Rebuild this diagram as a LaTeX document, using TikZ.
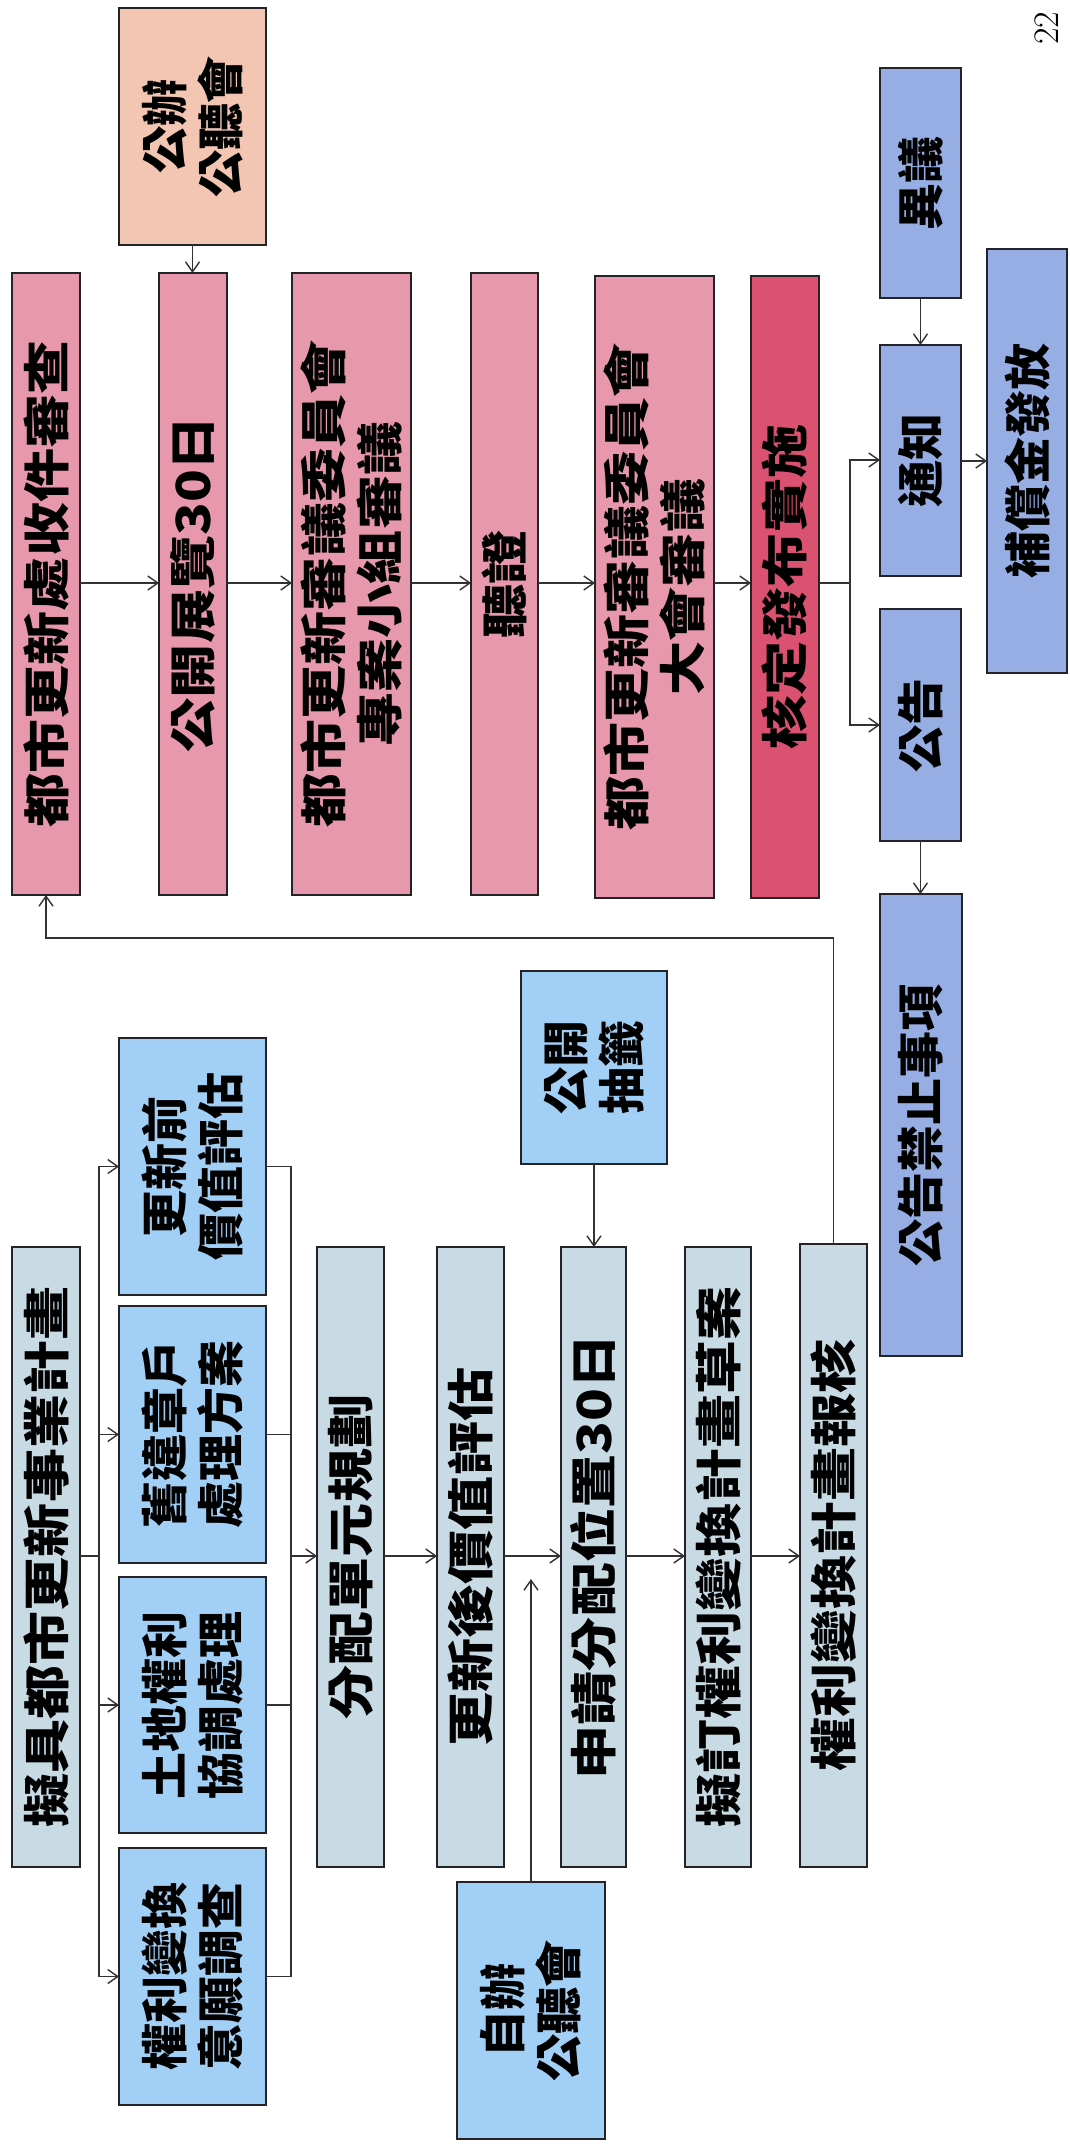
\documentclass[tikz,border=0pt]{standalone}
\usepackage{fontspec}
\newfontfamily\cjk{Noto Sans CJK TC}
\newfontfamily\cjkw{Noto Sans CJK TC}[FakeStretch=1.15]
\usetikzlibrary{arrows.meta}
\definecolor{boxline}{RGB}{35,35,40}
\definecolor{linec}{RGB}{50,50,50}
\definecolor{peach}{RGB}{243,198,180}
\definecolor{rosepink}{RGB}{232,152,172}
\definecolor{deepred}{RGB}{218,82,112}
\definecolor{peri}{RGB}{150,174,228}
\definecolor{sky}{RGB}{162,207,245}
\definecolor{grayblue}{RGB}{200,219,229}
\tikzset{
  bx/.style={draw=boxline, line width=1.4pt, rotate=90, inner sep=0pt, outer sep=0pt, align=center, text=black},
  tbig/.style={font=\cjkw\bfseries\fontsize{23.5}{28}\selectfont},
  tsmall/.style={font=\cjk\bfseries\fontsize{23.5}{28}\selectfont},
  arr/.style={draw=linec, line width=0.7pt, -{Straight Barb[length=5pt,width=7pt]}},
  ln/.style={draw=linec, line width=0.7pt},
}
% name, x1, y1, x2, y2, style, text
\newcommand\putbox[7]{%
  \node[bx,#6, minimum width={(#5-#3)*0.5pt}, minimum height={(#4-#2)*0.5pt}]
    (#1) at ({(#2+#4)/2},{(#3+#5)/2}) {#7};}
\begin{document}
\begin{tikzpicture}[x=0.5pt,y=-0.5pt]
\useasboundingbox (0,0) rectangle (1070,2144);
% page number
\node[rotate=90, anchor=base, font=\fontsize{18}{22}\selectfont] (pg) at (1058,28) {22};
% upper pink row
\putbox{G}{119}{8}{266}{245}{fill=peach,tsmall}{公辦\\公聽會}
\putbox{P1}{12}{273}{80}{895}{fill=rosepink,tbig}{都市更新處收件審查}
\putbox{P2}{159}{273}{227}{895}{fill=rosepink,tbig}{公開展覽30日}
\putbox{P3}{292}{273}{411}{895}{fill=rosepink,tbig}{都市更新審議委員會\\專案小組審議}
\putbox{P4}{471}{273}{538}{895}{fill=rosepink,tbig}{聽證}
\putbox{P5}{595}{276}{714}{898}{fill=rosepink,tbig}{都市更新審議委員會\\大會審議}
\putbox{P6}{751}{276}{819}{898}{fill=deepred,tbig}{核定發布實施}
% right blue column
\putbox{Y}{880}{68}{961}{298}{fill=peri,tsmall}{異議}
\putbox{N}{880}{345}{961}{576}{fill=peri,tsmall}{通知}
\putbox{A}{880}{609}{961}{841}{fill=peri,tsmall}{公告}
\putbox{F}{880}{894}{962}{1356}{fill=peri,tsmall}{公告禁止事項}
\putbox{C}{987}{249}{1067}{673}{fill=peri,tsmall}{補償金發放}
% lower left part
\putbox{S}{12}{1247}{80}{1867}{fill=grayblue,tbig}{擬具都市更新事業計畫}
\putbox{B1}{119}{1038}{266}{1295}{fill=sky,tsmall}{更新前\\價值評估}
\putbox{B2}{119}{1306}{266}{1563}{fill=sky,tsmall}{舊違章戶\\處理方案}
\putbox{B3}{119}{1577}{266}{1833}{fill=sky,tsmall}{土地權利\\協調處理}
\putbox{B4}{119}{1848}{266}{2105}{fill=sky,tsmall}{權利變換\\意願調查}
\putbox{Q1}{317}{1247}{384}{1867}{fill=grayblue,tbig}{分配單元規劃}
\putbox{Q2}{437}{1247}{504}{1867}{fill=grayblue,tbig}{更新後價值評估}
\putbox{Q3}{561}{1247}{626}{1867}{fill=grayblue,tbig}{申請分配位置30日}
\putbox{Q4}{685}{1247}{751}{1867}{fill=grayblue,tbig}{擬訂權利變換計畫草案}
\putbox{Q5}{800}{1244}{867}{1867}{fill=grayblue,tbig}{權利變換計畫報核}
\putbox{L}{521}{971}{667}{1164}{fill=sky,tsmall}{公開\\抽籤}
\putbox{Z}{457}{1882}{605}{2139}{fill=sky,tsmall}{自辦\\公聽會}
% connectors, upper part
\draw[arr] (G.west) -- (G.west |- P2.east);
\draw[arr] (P1.south |- 0,583) -- (P2.north |- 0,583);
\draw[arr] (P2.south |- 0,583) -- (P3.north |- 0,583);
\draw[arr] (P3.south |- 0,583) -- (P4.north |- 0,583);
\draw[arr] (P4.south |- 0,583) -- (P5.north |- 0,583);
\draw[arr] (P5.south |- 0,583) -- (P6.north |- 0,583);
\coordinate (sp) at (850,583);
\draw[ln] (P6.south |- sp) -- (sp);
\draw[arr] (sp) |- (N.north |- 0,460);
\draw[arr] (sp) |- (A.north |- 0,725);
\draw[arr] (Y.west) -- (Y.west |- N.east);
\draw[arr] (N.south |- 0,461) -- (C.north |- 0,461);
\draw[arr] (A.west) -- (A.west |- F.east);
% feedback
\draw[arr] (Q5.east) |- (P1.west |- 0,938) -- (P1.west);
% lower part
\coordinate (br) at (99,1556);
\coordinate (mg) at (291,1556);
\draw[ln] (S.south |- br) -- (br);
\foreach \b in {B1,B2,B3,B4}{
  \draw[arr] (br) |- (\b.north);
  \draw[ln] (\b.south) -| (mg);
}
\draw[arr] (mg) -- (Q1.north |- mg);
\draw[arr] (Q1.south |- mg) -- (Q2.north |- mg);
\draw[arr] (Q2.south |- mg) -- (Q3.north |- mg);
\draw[arr] (Q3.south |- mg) -- (Q4.north |- mg);
\draw[arr] (Q4.south |- mg) -- (Q5.north |- mg);
\draw[arr] (L.west) -- (L.west |- Q3.east);
\coordinate (zend) at (531,1579);
\draw[arr] (Z.east) -- (Z.east |- zend);
\end{tikzpicture}
\end{document}
